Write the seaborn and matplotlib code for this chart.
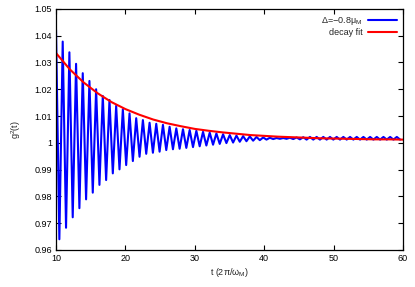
import numpy as np
import pandas as pd
import matplotlib
matplotlib.use("Agg")
import matplotlib.pyplot as plt
import seaborn as sns

# ── Data ─────────────────────────────────────────────────────────────────────
# oscillation extrema (maxima / minima), evenly spaced in t
PEAK_T0 = 10.0
TROUGH_T0 = 10.48
PERIOD = 0.963

peaks = [
    1.0422, 1.0378, 1.0338, 1.0295, 1.0260, 1.0231, 1.0200, 1.0175, 1.0160,
    1.0138, 1.0125, 1.0110, 1.0092, 1.0085, 1.0075, 1.0071, 1.0067, 1.0060,
    1.0054, 1.0051, 1.0048, 1.0045, 1.0041, 1.0038, 1.0035, 1.0032, 1.0029,
    1.0027, 1.0025, 1.0024, 1.0022, 1.0020, 1.0019, 1.0018, 1.0018, 1.0019,
    1.0020, 1.0021, 1.0022, 1.0022, 1.0022, 1.0022, 1.0022, 1.0022, 1.0022,
    1.0022, 1.0022, 1.0022, 1.0022, 1.0022, 1.0022, 1.0022,
]
troughs = [
    0.9640, 0.9683, 0.9722, 0.9756, 0.9789, 0.9814, 0.9843, 0.9861, 0.9886,
    0.9901, 0.9917, 0.9932, 0.9948, 0.9959, 0.9963, 0.9967, 0.9973, 0.9976,
    0.9978, 0.9981, 0.9984, 0.9987, 0.9990, 0.9993, 0.9996, 0.9999, 1.0001,
    1.0004, 1.0006, 1.0008, 1.0010, 1.0012, 1.0014, 1.0015, 1.0015, 1.0014,
    1.0013, 1.0012, 1.0012, 1.0012, 1.0012, 1.0012, 1.0012, 1.0012, 1.0012,
    1.0012, 1.0012, 1.0012, 1.0012, 1.0012, 1.0012, 1.0012,
]

# decay fit, sampled every 2 time units
fit_t = [10, 12, 14, 16, 18, 20, 22, 24, 26, 28, 30, 32, 34, 36, 38, 40,
         42, 44, 46, 48, 50, 52, 54, 56, 58, 60]
fit_g = [1.0335, 1.0274, 1.0225, 1.0185, 1.0152, 1.0126, 1.0105, 1.0087,
         1.0073, 1.0062, 1.0052, 1.0045, 1.0039, 1.0034, 1.0029, 1.0026,
         1.0023, 1.0021, 1.0019, 1.0017, 1.0016, 1.0015, 1.0014, 1.0013,
         1.0013, 1.0012]

x_ticks = [10, 20, 30, 40, 50, 60]
y_ticks = [0.96, 0.97, 0.98, 0.99, 1.0, 1.01, 1.02, 1.03, 1.04, 1.05]
y_labels = ["0.96", "0.97", "0.98", "0.99", "1", "1.01", "1.02", "1.03",
            "1.04", "1.05"]

# ── Build frames ─────────────────────────────────────────────────────────────
peak_t = PEAK_T0 + PERIOD * np.arange(len(peaks))
trough_t = TROUGH_T0 + PERIOD * np.arange(len(troughs))
osc = pd.DataFrame({
    "t": np.concatenate([peak_t, trough_t]),
    "g": np.concatenate([peaks, troughs]),
}).sort_values("t")
fit = pd.DataFrame({"t": fit_t, "g": fit_g})

# ── Plot ─────────────────────────────────────────────────────────────────────
sns.set_style("ticks")
plt.rcParams["font.family"] = ["Liberation Sans", "DejaVu Sans"]
plt.rcParams["mathtext.fontset"] = "custom"
plt.rcParams["mathtext.rm"] = "Liberation Sans"
plt.rcParams["mathtext.it"] = "Liberation Sans"

fig = plt.figure(figsize=(4.15, 2.87), dpi=100)
ax = fig.add_axes([0.135, 0.129, 0.836, 0.840])

sns.lineplot(data=osc, x="t", y="g", ax=ax, color="#0000ff", lw=1.5,
             sort=False, label="Δ=−0.8μ$_\\mathrm{M}$")
sns.lineplot(data=fit, x="t", y="g", ax=ax, color="#ff0000", lw=1.5,
             label="decay fit")

ax.set_xlim(10, 60)
ax.set_ylim(0.96, 1.05)
ax.set_xticks(x_ticks)
ax.set_xticklabels([str(v) for v in x_ticks])
ax.set_yticks(y_ticks)
ax.set_yticklabels(y_labels)
ax.tick_params(direction="in", length=3.5, width=0.8, labelsize=6.5,
               top=True, right=True, pad=3, colors="black")
for s in ax.spines.values():
    s.set_linewidth(0.9)
    s.set_color("black")

ax.set_xlabel("t (2π/ω$_\\mathrm{M}$)", fontsize=6.5, labelpad=2)
ax.set_ylabel("g$^2$(t)", fontsize=6.5, labelpad=8)

leg = ax.legend(loc="upper right", frameon=False, markerfirst=False,
                fontsize=6.5, handlelength=3.2, handletextpad=0.6,
                labelspacing=0.1, borderaxespad=0.3)

fig.savefig("out.png", dpi=100)
